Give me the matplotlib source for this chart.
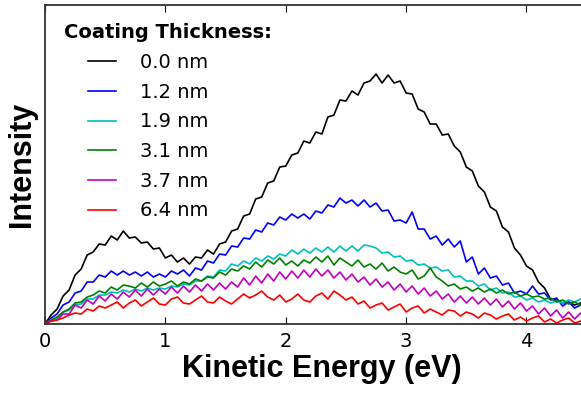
import numpy as np
import matplotlib
matplotlib.use('Agg')
import matplotlib.pyplot as plt

# kinetic energy grid (eV), one sample every 0.05 eV
energy = np.arange(91) * 0.05

# intensities (arb. units)
i_00 = [0, 9, 15, 28, 34, 49, 55, 69, 72, 80, 79, 88, 84, 93, 86, 87, 81, 82, 75, 76,
        66, 69, 62, 66, 60, 67, 66, 74, 70, 80, 82, 93, 95, 108, 110, 125, 127, 141, 143, 157,
        158, 169, 171, 183, 181, 192, 190, 207, 209, 224, 223, 233, 229, 241, 243, 250, 241, 249, 241, 243,
        231, 230, 215, 212, 200, 200, 189, 190, 178, 172, 157, 153, 138, 132, 117, 113, 97, 92, 76, 69,
        58, 54, 42, 36, 25, 24, 21, 22, 19, 21, 18]
i_12 = [0, 6, 10, 19, 22, 31, 33, 42, 42, 49, 47, 53, 49, 53, 49, 52, 48, 52, 47, 50,
        47, 53, 50, 54, 48, 56, 54, 63, 61, 70, 69, 78, 77, 86, 85, 94, 92, 101, 99, 107,
        104, 110, 106, 110, 105, 113, 111, 119, 117, 126, 121, 124, 118, 124, 117, 121, 113, 114, 103, 104,
        101, 112, 95, 95, 85, 88, 79, 85, 77, 83, 62, 67, 50, 56, 46, 48, 39, 41, 31, 33,
        30, 38, 30, 31, 24, 26, 18, 22, 16, 19, 15]
i_19 = [0, 4, 6, 12, 14, 19, 20, 25, 25, 29, 29, 32, 31, 34, 32, 35, 33, 36, 34, 36,
        35, 38, 37, 40, 39, 43, 43, 48, 47, 54, 53, 60, 58, 63, 60, 66, 63, 68, 65, 70,
        68, 74, 70, 75, 71, 76, 72, 77, 72, 78, 73, 78, 73, 79, 78, 76, 71, 72, 67, 68,
        63, 64, 59, 60, 56, 57, 53, 54, 47, 48, 43, 43, 38, 40, 34, 36, 31, 32, 27, 28,
        24, 26, 22, 24, 21, 23, 21, 24, 22, 25, 23]
i_31 = [0, 4, 7, 12, 15, 21, 22, 27, 29, 33, 31, 37, 34, 39, 38, 36, 41, 37, 42, 38,
        40, 43, 38, 42, 40, 45, 43, 47, 46, 52, 49, 55, 53, 58, 55, 62, 57, 64, 60, 66,
        59, 63, 58, 64, 61, 67, 62, 68, 59, 66, 62, 58, 64, 57, 60, 55, 61, 53, 57, 52,
        50, 54, 45, 48, 56, 47, 43, 38, 40, 35, 37, 33, 36, 32, 35, 31, 34, 30, 32, 28,
        30, 27, 28, 25, 26, 22, 24, 20, 22, 19, 20]
i_37 = [0, 3, 4, 10, 10, 19, 16, 24, 20, 28, 23, 30, 25, 32, 27, 34, 28, 35, 29, 35,
        30, 37, 31, 38, 32, 39, 33, 40, 34, 41, 35, 42, 37, 46, 39, 48, 41, 50, 43, 52,
        45, 53, 46, 54, 47, 55, 48, 54, 46, 52, 44, 50, 42, 47, 39, 45, 37, 42, 34, 40,
        32, 38, 30, 36, 28, 33, 25, 30, 22, 28, 21, 27, 20, 26, 19, 25, 17, 23, 15, 21,
        13, 18, 10, 16, 8, 14, 6, 12, 5, 11, 5]
i_64 = [0, 3, 4, 6, 9, 11, 10, 15, 13, 18, 16, 19, 22, 16, 21, 24, 18, 22, 26, 20,
        19, 25, 27, 21, 20, 24, 28, 22, 21, 27, 23, 20, 25, 30, 26, 29, 33, 27, 24, 29,
        22, 25, 30, 24, 22, 28, 31, 25, 33, 29, 24, 27, 20, 23, 16, 19, 21, 14, 17, 20,
        12, 16, 18, 11, 15, 12, 9, 14, 13, 8, 12, 10, 6, 11, 9, 5, 8, 10, 4, 7,
        3, 6, 8, 2, 5, 1, 4, 6, 1, 3, 2]

labels = ['0.0 nm', '1.2 nm', '1.9 nm', '3.1 nm', '3.7 nm', '6.4 nm']
colors = ['k', 'b', 'c', 'g', 'm', 'r']
series = [i_00, i_12, i_19, i_31, i_37, i_64]

fig = plt.figure(figsize=(5.81, 3.95), dpi=100)
ax = fig.add_axes([0.0775, 0.1797, 0.953, 0.8076])

for s, c, lab in zip(series, colors, labels):
    ax.plot(energy, s, color=c, lw=1.2, label=lab)

ax.set_xlim(0, 4.6)
ax.set_ylim(0, 319)
ax.set_yticks([])
ax.set_xticks([0, 1, 2, 3, 4])
ax.tick_params(axis='x', direction='in', top=True, length=5, labelsize=14, pad=6)
for sp in ax.spines.values():
    sp.set_linewidth(1.3)
    sp.set_color('#333333')

ax.set_xlabel('Kinetic Energy (eV)', fontsize=22, fontweight='bold',
              family='Liberation Sans', labelpad=2)
ax.set_ylabel('Intensity', fontsize=22, fontweight='bold',
              family='Liberation Sans', labelpad=6)

ax.text(64 / 581, 1 - 33 / 395, 'Coating Thickness:', transform=fig.transFigure,
        fontsize=14, fontweight='bold', va='center', ha='left')
leg = ax.legend(loc='upper left', bbox_to_anchor=(88 / 581, 1 - 53 / 395),
                bbox_transform=fig.transFigure, frameon=False, fontsize=14,
                handlelength=1.45, handletextpad=1.2, labelspacing=0.55,
                borderpad=0, borderaxespad=0)

fig.savefig('out.png', dpi=100)
